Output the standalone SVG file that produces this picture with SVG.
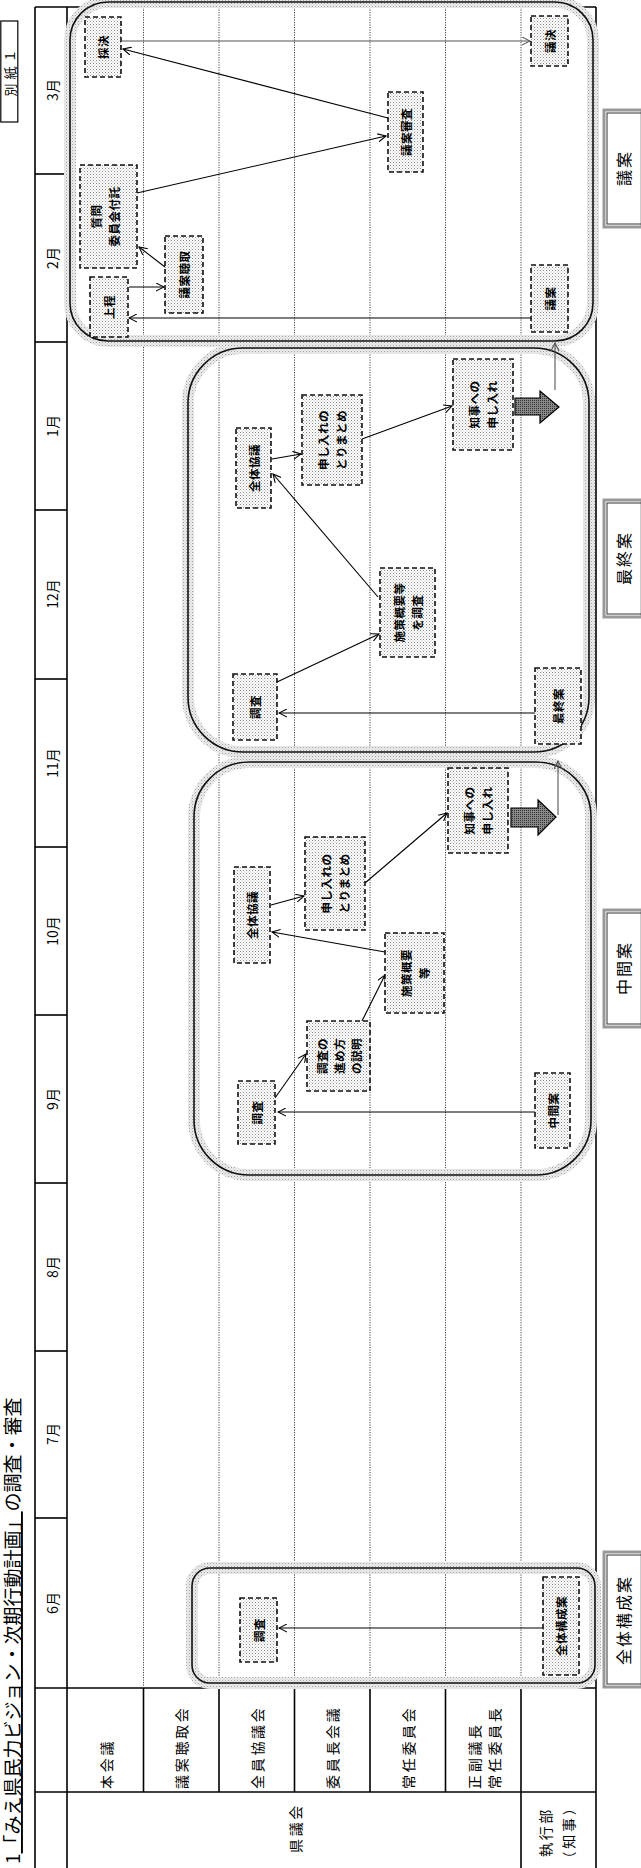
<svg xmlns="http://www.w3.org/2000/svg" width="641" height="1868" viewBox="0 0 641 1868">
<defs>
<pattern id="dots" width="3" height="3" patternUnits="userSpaceOnUse"><rect width="3" height="3" fill="#fff"/><rect width="1" height="1" fill="#8a8a8a"/><rect x="1.5" y="1.5" width="1" height="1" fill="#b0b0b0"/></pattern>
<pattern id="halo" width="3" height="3" patternUnits="userSpaceOnUse"><rect width="3" height="3" fill="#ececec"/><rect width="1" height="1" fill="#a0a0a0"/><rect x="1.5" y="1.5" width="1" height="1" fill="#c4c4c4"/></pattern>
<pattern id="dark" width="2" height="2" patternUnits="userSpaceOnUse"><rect width="2" height="2" fill="#888"/><rect width="1" height="1" fill="#333"/></pattern>
<marker id="ah" viewBox="0 0 10 10" refX="9" refY="5" markerWidth="9" markerHeight="9" markerUnits="userSpaceOnUse" orient="auto"><path d="M0,0.5 L9,5 L0,9.5" fill="none" stroke="#000" stroke-width="1.2"/></marker>
<marker id="ahg" viewBox="0 0 10 10" refX="9" refY="5" markerWidth="9" markerHeight="9" markerUnits="userSpaceOnUse" orient="auto"><path d="M0,0.5 L9,5 L0,9.5" fill="none" stroke="#555" stroke-width="1.2"/></marker>
</defs>
<style>
text{font-family:"Noto Sans CJK JP","Noto Sans CJK SC",sans-serif;fill:#000}
.grid{stroke:#000;stroke-width:1.6;fill:none}
.dot{stroke:#444;stroke-width:1;stroke-dasharray:1.2 1.3;fill:none}
.phase-halo{fill:none;stroke:url(#halo);stroke-width:12}
.phase{fill:none;stroke:#111;stroke-width:1.6}
.box{fill:url(#dots);stroke:#111;stroke-width:1.6;stroke-dasharray:5 3}
.nt{font-size:11.5px;font-weight:bold;text-anchor:middle;dominant-baseline:central;letter-spacing:0.5px}
.mon{font-size:14px;text-anchor:middle;dominant-baseline:central}
.rl{font-size:14px;dominant-baseline:central;letter-spacing:2.7px}
.lab{font-size:16px;text-anchor:middle;dominant-baseline:central;letter-spacing:2px}
.lbo{fill:#fff;stroke:#999;stroke-width:3}
.lbi{fill:none;stroke:#333;stroke-width:1}
.con{stroke:#000;stroke-width:1.1;fill:none;marker-end:url(#ah)}
.cong{stroke:#555;stroke-width:1.1;fill:none;marker-end:url(#ahg)}
.big{fill:url(#dark);stroke:#000;stroke-width:1.2}
</style>
<rect width="641" height="1868" fill="#fff"/>

<!-- title and tag -->
<g id="title" transform="translate(20,1864) rotate(-90)"><text x="0" y="0" font-size="19">1<tspan text-decoration="underline">「みえ県民力ビジョン・次期行動計画」</tspan>の調査・審査</text></g>
<g id="tag"><rect x="0.8" y="21" width="17" height="101" fill="none" stroke="#000" stroke-width="1.2"/><g transform="translate(9.5,71) rotate(-90)"><text x="0" y="0" font-size="13" text-anchor="middle" dominant-baseline="central" letter-spacing="4">別紙１</text></g></g>

<!-- table grid -->
<g id="table">
<line class="grid" x1="35" y1="7" x2="596" y2="7"/>
<line class="grid" x1="35" y1="7" x2="35" y2="1868"/>
<line class="grid" x1="67" y1="7" x2="67" y2="1868"/>
<line class="grid" x1="596" y1="7" x2="596" y2="1868"/>
<g class="grid">
<line x1="35" y1="174" x2="67" y2="174"/><line x1="35" y1="342" x2="67" y2="342"/><line x1="35" y1="510" x2="67" y2="510"/><line x1="35" y1="679" x2="67" y2="679"/><line x1="35" y1="847" x2="67" y2="847"/><line x1="35" y1="1015" x2="67" y2="1015"/><line x1="35" y1="1183" x2="67" y2="1183"/><line x1="35" y1="1351" x2="67" y2="1351"/><line x1="35" y1="1518" x2="67" y2="1518"/>
</g>
<line class="grid" x1="35" y1="1688" x2="596" y2="1688" stroke-width="2"/>
<line class="grid" x1="35" y1="1792" x2="596" y2="1792"/>
<g class="grid">
<line x1="143.5" y1="1688" x2="143.5" y2="1792"/><line x1="219" y1="1688" x2="219" y2="1792"/><line x1="294.5" y1="1688" x2="294.5" y2="1792"/><line x1="370" y1="1688" x2="370" y2="1792"/><line x1="445.5" y1="1688" x2="445.5" y2="1792"/><line x1="521" y1="1688" x2="521" y2="1868"/>
</g>
<g class="dot">
<line x1="143.5" y1="7" x2="143.5" y2="1688"/><line x1="219" y1="7" x2="219" y2="1688"/><line x1="294.5" y1="7" x2="294.5" y2="1688"/><line x1="370" y1="7" x2="370" y2="1688"/><line x1="445.5" y1="7" x2="445.5" y2="1688"/><line x1="521" y1="7" x2="521" y2="1688"/>
</g>
<!-- months -->
<g transform="translate(52,90) rotate(-90)"><text class="mon">3月</text></g>
<g transform="translate(52,258) rotate(-90)"><text class="mon">2月</text></g>
<g transform="translate(52,426) rotate(-90)"><text class="mon">1月</text></g>
<g transform="translate(52,594) rotate(-90)"><text class="mon">12月</text></g>
<g transform="translate(52,763) rotate(-90)"><text class="mon">11月</text></g>
<g transform="translate(52,931) rotate(-90)"><text class="mon">10月</text></g>
<g transform="translate(52,1099) rotate(-90)"><text class="mon">9月</text></g>
<g transform="translate(52,1267) rotate(-90)"><text class="mon">8月</text></g>
<g transform="translate(52,1434) rotate(-90)"><text class="mon">7月</text></g>
<g transform="translate(52,1603) rotate(-90)"><text class="mon">6月</text></g>
<!-- row labels -->
<g transform="translate(106,1789) rotate(-90)"><text class="rl">本会議</text></g>
<g transform="translate(181,1789) rotate(-90)"><text class="rl">議案聴取会</text></g>
<g transform="translate(257,1789) rotate(-90)"><text class="rl">全員協議会</text></g>
<g transform="translate(332,1789) rotate(-90)"><text class="rl">委員長会議</text></g>
<g transform="translate(408,1789) rotate(-90)"><text class="rl">常任委員会</text></g>
<g transform="translate(474,1789) rotate(-90)"><text class="rl">正副議長</text></g>
<g transform="translate(494,1789) rotate(-90)"><text class="rl">常任委員長</text></g>
<g transform="translate(295,1828) rotate(-90)"><text class="rl" text-anchor="middle" letter-spacing="1">県議会</text></g>
<g transform="translate(545,1832) rotate(-90)"><text class="rl" text-anchor="middle" letter-spacing="2.5">執行部</text></g>
<g transform="translate(568,1832) rotate(-90)"><text class="rl" text-anchor="middle" letter-spacing="0" font-size="13">（知事）</text></g>
</g>

<!-- phase frames -->
<g id="phases">
<rect class="phase-halo" x="192" y="1568" width="403" height="115" rx="18"/>
<rect class="phase-halo" x="194" y="762" width="397" height="413" rx="55"/>
<rect class="phase-halo" x="188" y="348" width="401" height="404" rx="55"/>
<rect class="phase-halo" x="70" y="2" width="523" height="339" rx="38"/>
<rect class="phase" x="192" y="1568" width="403" height="115" rx="18"/>
<rect class="phase" x="194" y="762" width="397" height="413" rx="55"/>
<rect class="phase" x="188" y="348" width="401" height="404" rx="55"/>
<rect class="phase" x="70" y="2" width="523" height="339" rx="38"/>
</g>

<!-- stage labels -->
<g id="lbl-zentai"><rect class="lbo" x="604" y="1552" width="38" height="135"/><rect class="lbi" x="607" y="1555" width="36" height="129"/><g transform="translate(623,1620) rotate(-90)"><text class="lab">全体構成案</text></g></g>
<g id="lbl-chukan"><rect class="lbo" x="604" y="910" width="38" height="117"/><rect class="lbi" x="607" y="913" width="36" height="111"/><g transform="translate(623,968) rotate(-90)"><text class="lab">中間案</text></g></g>
<g id="lbl-saishu"><rect class="lbo" x="604" y="500" width="38" height="117"/><rect class="lbi" x="607" y="503" width="36" height="111"/><g transform="translate(623,558) rotate(-90)"><text class="lab">最終案</text></g></g>
<g id="lbl-gian"><rect class="lbo" x="604" y="110" width="38" height="117"/><rect class="lbi" x="607" y="113" width="36" height="111"/><g transform="translate(623,168) rotate(-90)"><text class="lab">議案</text></g></g>

<!-- connectors -->
<g id="connectors">
<line class="con" x1="543" y1="1628" x2="279" y2="1628"/>
<line class="con" x1="535" y1="1112" x2="278" y2="1112"/>
<line class="con" x1="275" y1="1098" x2="306" y2="1054"/>
<line class="con" x1="362" y1="1021" x2="385" y2="975"/>
<line class="con" x1="385" y1="952" x2="272" y2="932"/>
<line class="con" x1="271" y1="905" x2="304" y2="896"/>
<line class="con" x1="365" y1="883" x2="447" y2="813"/>
<line class="cong" x1="558" y1="815" x2="558" y2="761"/>
<line class="con" x1="535" y1="713" x2="279" y2="713"/>
<line class="con" x1="277" y1="682" x2="379" y2="634"/>
<line class="con" x1="378" y1="597" x2="273" y2="474"/>
<line class="con" x1="272" y1="459" x2="301" y2="454"/>
<line class="con" x1="362" y1="439" x2="452" y2="406"/>
<line class="cong" x1="555" y1="390" x2="555" y2="343"/>
<line class="cong" x1="122" y1="41" x2="530" y2="41"/>
<line class="con" x1="388" y1="118" x2="123" y2="49"/>
<line class="con" x1="137" y1="193" x2="386" y2="136"/>
<line class="con" x1="165" y1="267" x2="139" y2="247"/>
<line class="con" x1="129" y1="287" x2="164" y2="287"/>
<line class="con" x1="531" y1="318" x2="129" y2="318"/>
<polygon class="big" points="511,808 538,808 538,800 556,817 538,835 538,827 511,827"/>
<polygon class="big" points="515,398 540,398 540,391 559,407 540,423 540,415 515,415"/>
</g>

<!-- phase 1 nodes -->
<g id="p1-chousa"><rect class="box" x="240" y="1598" width="37" height="64"/><g transform="translate(258.5,1630) rotate(-90)"><text class="nt">調査</text></g></g>
<g id="p1-zentai"><rect class="box" x="543" y="1577" width="36" height="98"/><g transform="translate(561,1626) rotate(-90)"><text class="nt">全体構成案</text></g></g>

<!-- phase 2 nodes -->
<g id="p2-chousa"><rect class="box" x="238" y="1081" width="37" height="63"/><g transform="translate(256.5,1112.5) rotate(-90)"><text class="nt">調査</text></g></g>
<g id="p2-susume"><rect class="box" x="307" y="1021" width="63" height="70"/><g transform="translate(338.5,1056) rotate(-90)"><text class="nt" y="-17">調査の</text><text class="nt" y="0">進め方</text><text class="nt" y="17">の説明</text></g></g>
<g id="p2-chukan"><rect class="box" x="535" y="1073" width="35" height="75"/><g transform="translate(552.5,1110.5) rotate(-90)"><text class="nt">中間案</text></g></g>
<g id="p2-shisaku"><rect class="box" x="385" y="933" width="59" height="80"/><g transform="translate(414.5,973) rotate(-90)"><text class="nt" y="-9">施策概要</text><text class="nt" y="9">等</text></g></g>
<g id="p2-kyogi"><rect class="box" x="234" y="867" width="36" height="96"/><g transform="translate(252,915) rotate(-90)"><text class="nt">全体協議</text></g></g>
<g id="p2-matome"><rect class="box" x="305" y="837" width="60" height="93"/><g transform="translate(335,883.5) rotate(-90)"><text class="nt" y="-9">申し入れの</text><text class="nt" y="9">とりまとめ</text></g></g>
<g id="p2-chiji"><rect class="box" x="448" y="768" width="60" height="85"/><g transform="translate(478,810.5) rotate(-90)"><text class="nt" y="-9">知事への</text><text class="nt" y="9">申し入れ</text></g></g>

<!-- phase 3 nodes -->
<g id="p3-chousa"><rect class="box" x="233" y="674" width="44" height="66"/><g transform="translate(255,707) rotate(-90)"><text class="nt">調査</text></g></g>
<g id="p3-saishu"><rect class="box" x="535" y="668" width="46" height="76"/><g transform="translate(558,706) rotate(-90)"><text class="nt">最終案</text></g></g>
<g id="p3-shisaku"><rect class="box" x="380" y="568" width="55" height="89"/><g transform="translate(407.5,612.5) rotate(-90)"><text class="nt" y="-9">施策概要等</text><text class="nt" y="9">を調査</text></g></g>
<g id="p3-kyogi"><rect class="box" x="236" y="428" width="35" height="80"/><g transform="translate(253.5,468) rotate(-90)"><text class="nt">全体協議</text></g></g>
<g id="p3-matome"><rect class="box" x="302" y="395" width="60" height="90"/><g transform="translate(332,440) rotate(-90)"><text class="nt" y="-9">申し入れの</text><text class="nt" y="9">とりまとめ</text></g></g>
<g id="p3-chiji"><rect class="box" x="453" y="359" width="60" height="91"/><g transform="translate(483,404.5) rotate(-90)"><text class="nt" y="-9">知事への</text><text class="nt" y="9">申し入れ</text></g></g>

<!-- phase 4 nodes -->
<g id="p4-saiketsu"><rect class="box" x="85" y="17" width="36" height="60"/><g transform="translate(103,47) rotate(-90)"><text class="nt">採決</text></g></g>
<g id="p4-shinsa"><rect class="box" x="388" y="92" width="35" height="80"/><g transform="translate(405.5,132) rotate(-90)"><text class="nt">議案審査</text></g></g>
<g id="p4-giketsu"><rect class="box" x="531" y="16" width="37" height="50"/><g transform="translate(549.5,41) rotate(-90)"><text class="nt">議決</text></g></g>
<g id="p4-shitsumon"><rect class="box" x="80" y="165" width="57" height="103"/><g transform="translate(105,216.5) rotate(-90)"><text class="nt" y="-9">質問</text><text class="nt" y="9">委員会付託</text></g></g>
<g id="p4-choshu"><rect class="box" x="165" y="236" width="38" height="77"/><g transform="translate(184,274.5) rotate(-90)"><text class="nt">議案聴取</text></g></g>
<g id="p4-jotei"><rect class="box" x="90" y="277" width="38" height="60"/><g transform="translate(109,307) rotate(-90)"><text class="nt">上程</text></g></g>
<g id="p4-gian"><rect class="box" x="531" y="265" width="37" height="67"/><g transform="translate(549.5,298.5) rotate(-90)"><text class="nt">議案</text></g></g>
</svg>
